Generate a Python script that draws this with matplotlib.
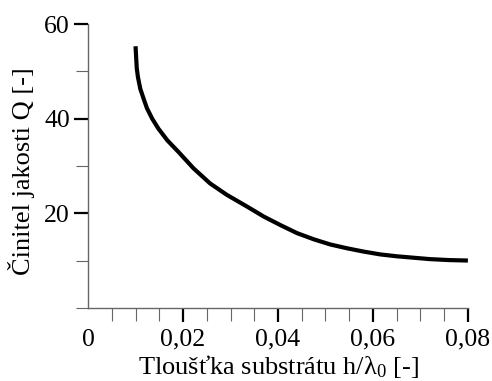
import matplotlib
matplotlib.use('Agg')
import matplotlib.pyplot as plt
from matplotlib.ticker import FixedLocator, MultipleLocator, FuncFormatter

plt.rcParams['font.family'] = ['Liberation Serif', 'DejaVu Serif']
plt.rcParams['mathtext.fontset'] = 'custom'
plt.rcParams['mathtext.rm'] = 'Liberation Serif'
plt.rcParams['mathtext.it'] = 'Liberation Serif:italic'

# tloušťka substrátu h/lambda0 a činitel jakosti Q
h = [0.0100, 0.01025, 0.0105, 0.0110, 0.0117, 0.0124, 0.0135, 0.0148,
     0.0167, 0.0190, 0.0222, 0.0257, 0.0292, 0.0335, 0.0370, 0.0405,
     0.0440, 0.0475, 0.0510, 0.0545, 0.0580, 0.0615, 0.0650, 0.0685,
     0.0720, 0.0760, 0.0800]
q = [55.3, 50.7, 48.8, 46.3, 44.2, 42.2, 40.0, 37.9,
     35.4, 33.0, 29.5, 26.3, 23.9, 21.4, 19.3, 17.5,
     15.8, 14.5, 13.4, 12.6, 11.9, 11.3, 10.9, 10.6,
     10.3, 10.1, 10.0]

x_major = [0, 0.02, 0.04, 0.06, 0.08]
y_major = [20, 40, 60]

fig = plt.figure(figsize=(4.92, 3.81), dpi=100)
ax = fig.add_axes([0.179, 0.192, 0.772, 0.745])

ax.plot(h, q, color='black', lw=3, solid_capstyle='butt', solid_joinstyle='round')

ax.set_xlim(0, 0.08)
ax.set_ylim(0, 60)
ax.spines['top'].set_visible(False)
ax.spines['right'].set_visible(False)
for s in ['left', 'bottom']:
    ax.spines[s].set_color('#666666')
    ax.spines[s].set_linewidth(1)

ax.xaxis.set_major_locator(FixedLocator(x_major))
ax.xaxis.set_minor_locator(MultipleLocator(0.005))
ax.yaxis.set_major_locator(FixedLocator(y_major))
ax.yaxis.set_minor_locator(MultipleLocator(10))

def fmt_x(v, pos):
    if abs(v) < 1e-9:
        return '0'
    return ('%.2f' % v).replace('.', ',')

ax.xaxis.set_major_formatter(FuncFormatter(fmt_x))
ax.yaxis.set_major_formatter(FuncFormatter(lambda v, p: '%d' % v))

ax.tick_params(which='major', direction='out', length=10, width=1.6, color='black',
               labelsize=18.5)
ax.tick_params(axis='x', which='major', pad=5)
ax.tick_params(axis='y', which='major', pad=3)
ax.tick_params(which='minor', direction='out', length=9, width=0.8, color='#666666')
# nulová značka na ose x chybí, jen popisek
ax.xaxis.get_major_ticks()[0].tick1line.set_visible(False)
ax.xaxis.get_major_ticks()[0].label1.set_x(-0.005)
ax.yaxis.get_minor_ticks()[0].tick1line.set_visible(False)
ax.xaxis.get_minor_ticks()[0].tick1line.set_visible(False)

ax.set_xlabel('Tloušťka substrátu h/λ$_0$ [-]', fontsize=19, labelpad=2)
ax.set_ylabel('Činitel jakosti Q [-]', fontsize=19)
ax.yaxis.set_label_coords(-0.14, 0.48)

fig.savefig('out.png', dpi=100)
